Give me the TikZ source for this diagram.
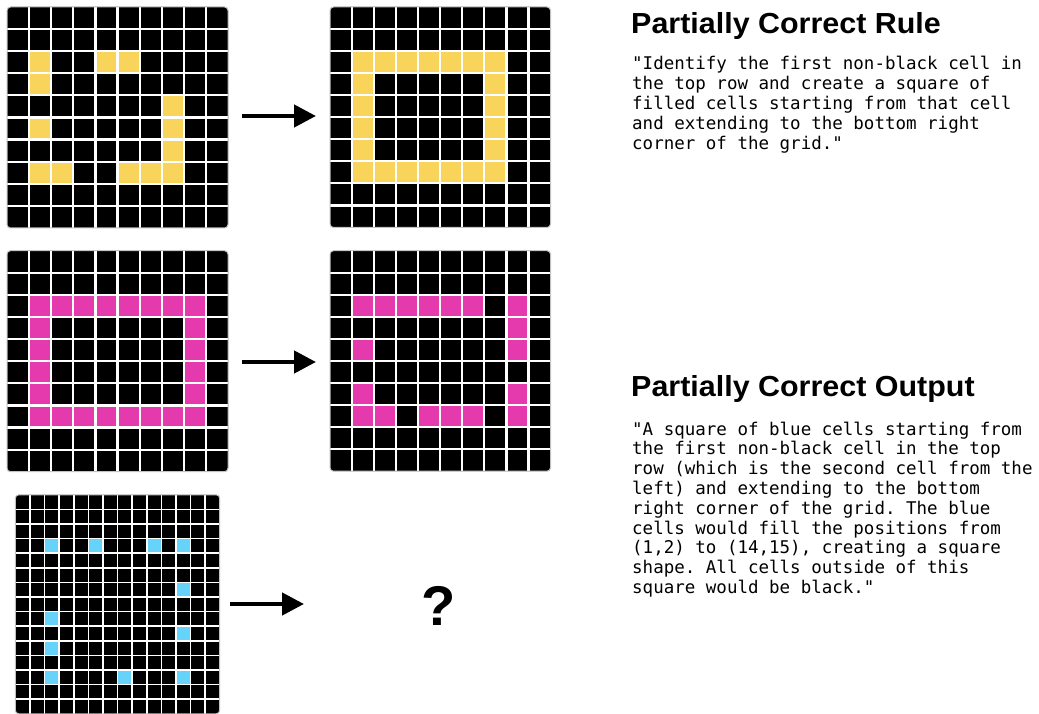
\documentclass[tikz,border=0pt]{standalone}
\usepackage{fontspec}
\setmainfont{Liberation Sans}
\newfontfamily\codefont{DejaVu Sans Mono}
\usetikzlibrary{arrows.meta}
\frenchspacing
\definecolor{arcyellow}{HTML}{F8D55A}
\definecolor{arcpink}{HTML}{E53AAE}
\definecolor{arcblue}{HTML}{66D4FA}
\definecolor{gridedgecol}{HTML}{C2C2C2}
\tikzset{
  arrowline/.style={line width=4.5pt,-{Triangle[length=22pt,width=22pt]}},
  titletext/.style={anchor=base west,inner sep=0pt,font=\fontsize{29}{32}\selectfont\bfseries},
  codetext/.style={anchor=base west,inner sep=0pt,font=\codefont\fontsize{17.5}{20}\selectfont\frenchspacing},
}
% #1 x0, #2 y0, #3 cols, #4 rows, #5 cell, #6 colour, #7 cells, #8 line width
\newcommand{\arcgrid}[8]{%
  \begin{scope}[shift={(#1,#2)}]
    \pgfmathsetmacro{\gridW}{#3*#5}
    \pgfmathsetmacro{\gridH}{#4*#5}
    \pgfmathtruncatemacro{\gcols}{#3-1}
    \pgfmathtruncatemacro{\grows}{#4-1}
    \fill[black,rounded corners=3.5pt] (0,0) rectangle (\gridW,\gridH);
    \foreach \c/\r in {#7} {\fill[#6] (\c*#5,\r*#5) rectangle ++(#5,#5);}
    \foreach \i in {1,...,\gcols} {\draw[white,line width=#8] (\i*#5,0) -- (\i*#5,\gridH);}
    \foreach \j in {1,...,\grows} {\draw[white,line width=#8] (0,\j*#5) -- (\gridW,\j*#5);}
    \draw[gridedgecol,line width=1pt,rounded corners=3.5pt] (0,0) rectangle (\gridW,\gridH);
  \end{scope}}
\begin{document}
\begin{tikzpicture}[x=1pt,y=-1pt]
\useasboundingbox (0,0) rectangle (1039,714);
\fill[white] (0,0) rectangle (1039,714);

% grids
\arcgrid{7}{7}{10}{10}{22.1}{arcyellow}{1/2,4/2,5/2,1/3,7/4,1/5,7/5,7/6,1/7,2/7,5/7,6/7,7/7}{2.2pt}
\arcgrid{330}{7}{10}{10}{22.05}{arcyellow}{1/2,2/2,3/2,4/2,5/2,6/2,7/2,1/3,7/3,1/4,7/4,1/5,7/5,1/6,7/6,1/7,2/7,3/7,4/7,5/7,6/7,7/7}{2.2pt}
\arcgrid{7}{250.7}{10}{10}{22.1}{arcpink}{1/2,2/2,3/2,4/2,5/2,6/2,7/2,8/2,1/3,8/3,1/4,8/4,1/5,8/5,1/6,8/6,1/7,2/7,3/7,4/7,5/7,6/7,7/7,8/7}{2.2pt}
\arcgrid{330}{250.7}{10}{10}{22.05}{arcpink}{1/2,2/2,3/2,4/2,5/2,6/2,8/2,8/3,1/4,8/4,1/6,8/6,1/7,2/7,4/7,5/7,6/7,8/7}{2.2pt}
\arcgrid{15.3}{494.8}{14}{15}{14.6}{arcblue}{2/3,5/3,9/3,11/3,11/6,2/8,11/9,2/10,2/12,7/12,11/12}{1.6pt}

% arrows
\coordinate (a1s) at (242,116);
\coordinate (a1e) at (316,116);
\coordinate (a2s) at (242,362);
\coordinate (a2e) at (316,362);
\coordinate (a3s) at (230,604);
\coordinate (a3e) at (304,604);
\draw[arrowline] (a1s) -- (a1e);
\draw[arrowline] (a2s) -- (a2e);
\draw[arrowline] (a3s) -- (a3e);

\node[font=\fontsize{56}{60}\selectfont\bfseries] (qm) at (439,606) {?};

% titles
\node[titletext] (t1) at (631,33.5) {\scalebox{1.05}[1]{Partially Correct Rule}};
\node[titletext] (t2) at (631,396) {\scalebox{1.05}[1]{Partially Correct Output}};

% rule text
\node[codetext] (r1) at (632,70) {"Identify the first non-black cell in};
\node[codetext] (r2) at (632,90) {the top row and create a square of};
\node[codetext] (r3) at (632,110) {filled cells starting from that cell};
\node[codetext] (r4) at (632,130) {and extending to the bottom right};
\node[codetext] (r5) at (632,150) {corner of the grid."};

% output text
\node[codetext] (o1) at (632,435) {"A square of blue cells starting from};
\node[codetext] (o2) at (632,454.8) {the first non-black cell in the top};
\node[codetext] (o3) at (632,474.6) {row (which is the second cell from the};
\node[codetext] (o4) at (632,494.4) {left) and extending to the bottom};
\node[codetext] (o5) at (632,514.2) {right corner of the grid. The blue};
\node[codetext] (o6) at (632,534) {cells would fill the positions from};
\node[codetext] (o7) at (632,553.8) {(1,2) to (14,15), creating a square};
\node[codetext] (o8) at (632,573.6) {shape. All cells outside of this};
\node[codetext] (o9) at (632,593.4) {square would be black."};
\end{tikzpicture}
\end{document}
